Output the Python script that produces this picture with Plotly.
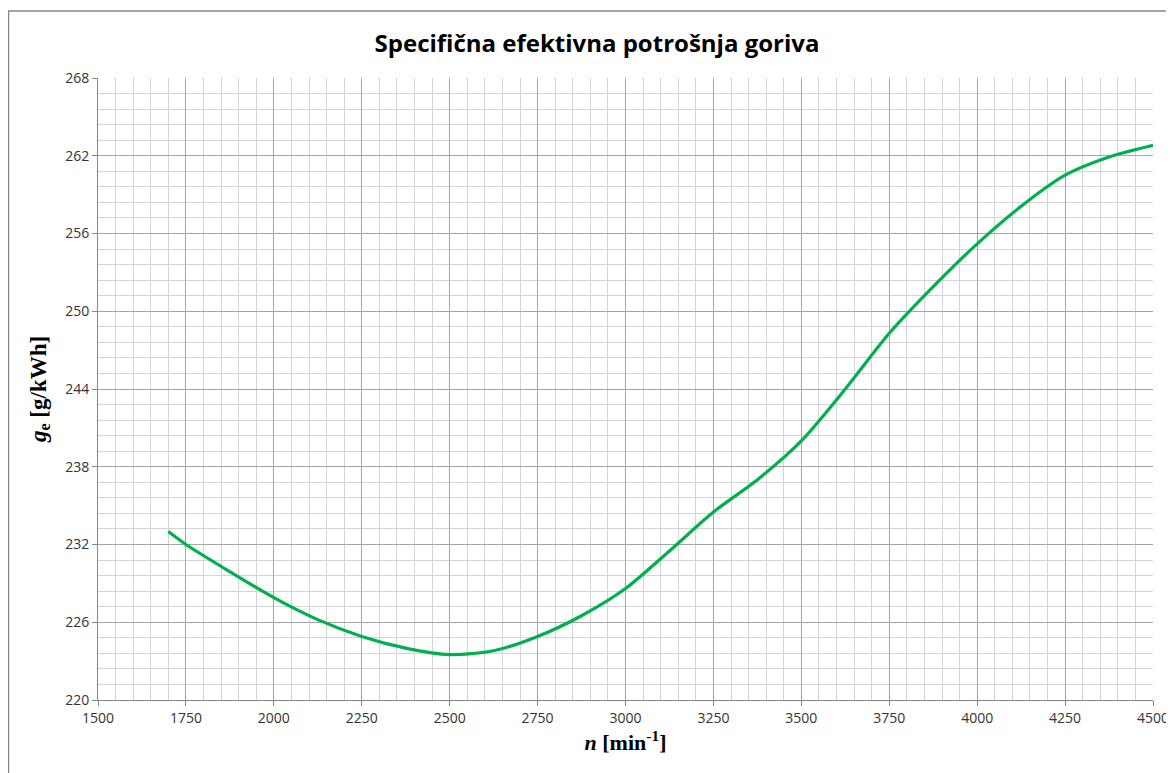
import plotly.graph_objects as go

n_rpm = [1700, 1750, 1875, 2000, 2125, 2250, 2375, 2500, 2625, 2750, 2875, 3000,
         3125, 3250, 3375, 3500, 3625, 3750, 3875, 4000, 4125, 4250, 4375, 4500]
ge = [233.0, 232.0, 229.9, 227.9, 226.2, 224.9, 224.0, 223.5, 223.8, 224.9, 226.5, 228.6,
      231.5, 234.5, 237.0, 240.0, 244.0, 248.3, 251.9, 255.2, 258.1, 260.5, 261.9, 262.8]

x_ticks = list(range(1500, 4501, 250))
y_ticks = list(range(220, 269, 6))

W, H = 1166, 765
L, R, T, B = 90, 21, 70, 73
pw, ph = W - L - R, H - T - B

fig = go.Figure()
fig.add_trace(go.Scatter(x=n_rpm, y=ge, mode="lines",
                         line=dict(color="#00B050", width=3.2, shape="spline", smoothing=0.8),
                         hoverinfo="x+y", showlegend=False))

fig.update_layout(
    width=W, height=H,
    margin=dict(l=L, r=R, t=T, b=B, autoexpand=False),
    paper_bgcolor="white", plot_bgcolor="white",
    title=dict(text="<b>Specifična efektivna potrošnja goriva</b>",
               x=589 / W, xanchor="center", y=1 - 36 / H, yanchor="middle",
               font=dict(family="Open Sans", size=24, color="black")),
    xaxis=dict(range=[1500, 4500], tickvals=x_ticks, ticktext=[str(v) for v in x_ticks],
               showgrid=True, gridcolor="#A6A6A6", gridwidth=1,
               minor=dict(dtick=50, showgrid=True, gridcolor="#D4D4D4", gridwidth=1),
               ticks="outside", ticklen=5, tickcolor="#868686",
               showline=True, linecolor="#868686", linewidth=1, zeroline=False,
               automargin=False,
               tickfont=dict(family="Open Sans", size=14, color="#333333"),
               title=dict(text="<b><i>n</i> [min<sup>-1</sup>]</b>", standoff=8,
                          font=dict(family="Liberation Serif", size=22, color="black"))),
    yaxis=dict(range=[220, 268], tickvals=y_ticks, ticktext=[str(v) for v in y_ticks],
               showgrid=True, gridcolor="#A6A6A6", gridwidth=1,
               minor=dict(dtick=1.2, tick0=220, showgrid=True, gridcolor="#D4D4D4", gridwidth=1),
               ticks="outside", ticklen=5, tickcolor="#868686",
               showline=True, linecolor="#868686", linewidth=1, zeroline=False,
               automargin=False,
               tickfont=dict(family="Open Sans", size=14, color="#333333"),
               title=dict(text="<b><i>g</i><sub>e</sub> [g/kWh]</b>", standoff=12,
                          font=dict(family="Liberation Serif", size=23, color="black"))),
    shapes=[dict(type="rect", xref="paper", yref="paper",
                 x0=(0.5 - L) / pw, x1=1.2, y0=-0.3, y1=1 + (T - 3) / ph,
                 line=dict(color="#868686", width=1.5), layer="below")],
)

fig.write_html("out.html")
